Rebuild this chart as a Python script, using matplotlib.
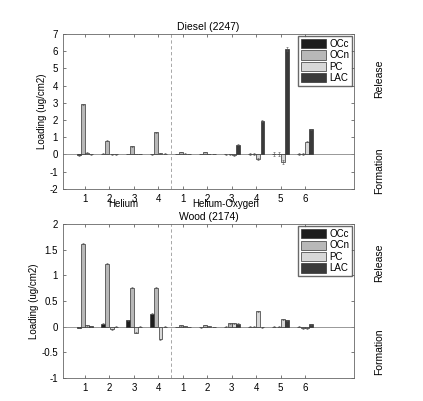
import numpy as np
import matplotlib
matplotlib.use("Agg")
from matplotlib import pyplot as plt
from matplotlib.patches import Patch
from matplotlib.ticker import FormatStrFormatter

plt.rcParams['font.family'] = ['Liberation Sans', 'DejaVu Sans']
plt.rcParams['axes.unicode_minus'] = False

tick_labels = ["1", "2", "3", "4", "1", "2", "3", "4", "5", "6"]
series = ["OCc", "OCn", "PC", "LAC"]
colors = ["#1e1e1e", "#b8b8b8", "#d8d8d8", "#3a3a3a"]

# Diesel (2247): Helium 1-4, Helium-Oxygen 1-6
diesel_occ = [-0.05, 0.03, 0.03, 0.0, 0.02, 0.03, 0.02, 0.02, 0.01, 0.02]
diesel_ocn = [2.9, 0.8, 0.48, 1.28, 0.15, 0.15, 0.02, 0.02, 0.01, 0.03]
diesel_pc = [0.1, 0.02, 0.02, 0.08, 0.05, 0.03, -0.05, -0.25, -0.45, 0.75]
diesel_lac = [0.02, 0.01, 0.02, 0.03, 0.02, 0.02, 0.55, 1.95, 6.1, 1.45]
diesel_err = [0.03, 0.03, 0.02, 0.03, 0.02, 0.02, 0.03, 0.05, 0.12, 0.05]

# Wood (2174)
wood_occ = [-0.02, 0.06, 0.13, 0.25, 0.0, -0.01, 0.0, 0.0, 0.0, 0.0]
wood_ocn = [1.62, 1.23, 0.76, 0.76, 0.03, 0.04, 0.07, 0.0, 0.0, -0.03]
wood_pc = [0.03, -0.05, -0.12, -0.24, 0.01, 0.01, 0.07, 0.3, 0.15, -0.03]
wood_lac = [0.01, 0.0, 0.0, 0.0, 0.0, 0.0, 0.06, -0.01, 0.13, 0.05]
wood_err = [0.01, 0.01, 0.01, 0.01, 0.005, 0.005, 0.01, 0.01, 0.01, 0.01]

x = np.arange(1, 11)
offsets = [-0.255, -0.085, 0.085, 0.255]
width = 0.16


def draw(ax, data, err, title, ylim, yticks):
    for k in range(4):
        ax.bar(x + offsets[k], data[k], width, color=colors[k],
               edgecolor="#333333", linewidth=0.5, zorder=3)
        ax.errorbar(x + offsets[k], data[k], yerr=err, fmt="none",
                    ecolor="#555555", elinewidth=0.4, capsize=1.0,
                    capthick=0.4, zorder=4)
    ax.axhline(0, color="#888888", linewidth=0.6, zorder=2)
    ax.axvline(4.5, color="#999999", linewidth=0.6, linestyle=(0, (4, 3)))
    ax.set_xlim(0.1, 12)
    ax.set_ylim(*ylim)
    ax.set_yticks(yticks)
    ax.yaxis.set_major_formatter(FormatStrFormatter('%g'))
    ax.set_xticks(x)
    ax.set_xticklabels(tick_labels)
    ax.tick_params(direction="in", length=2.5, width=0.5, labelsize=7,
                   top=True, right=True, colors="#444444", labelcolor="black")
    for s in ax.spines.values():
        s.set_linewidth(0.6)
        s.set_color("#666666")
    ax.set_title(title, fontsize=7.5, pad=3)
    ax.set_ylabel("Loading (ug/cm2)", fontsize=7, labelpad=2)
    handles = [Patch(facecolor=c, edgecolor="#333333", linewidth=0.5) for c in colors]
    ax.legend(handles, series, loc="upper right", fontsize=7,
              frameon=True, fancybox=False, edgecolor="#444444",
              handlelength=2.6, handleheight=1.1, handletextpad=0.3,
              borderpad=0.3, labelspacing=0.15, borderaxespad=0.2)


fig = plt.figure(figsize=(4.23, 4.01), dpi=100)
ax1 = fig.add_axes([0.149, 0.529, 0.688, 0.3865])
ax2 = fig.add_axes([0.149, 0.057, 0.688, 0.384])

draw(ax1, [diesel_occ, diesel_ocn, diesel_pc, diesel_lac], diesel_err,
     "Diesel (2247)", (-2, 7), range(-2, 8))
draw(ax2, [wood_occ, wood_ocn, wood_pc, wood_lac], wood_err,
     "Wood (2174)", (-1, 2), [-1, -0.5, 0, 0.5, 1, 1.5, 2])

for ax, (yr, yf) in ((ax1, (0.71, 0.12)), (ax2, (0.75, 0.17))):
    ax.text(1.085, yr, "Release", transform=ax.transAxes, rotation=90,
            ha="center", va="center", fontsize=7.5)
    ax.text(1.085, yf, "Formation", transform=ax.transAxes, rotation=90,
            ha="center", va="center", fontsize=7.5)

ax1.text(2.55, -2.6, "Helium", ha="center", va="top", fontsize=7, clip_on=False)
ax1.text(6.75, -2.6, "Helium-Oxygen", ha="center", va="top", fontsize=7, clip_on=False)

fig.savefig("out.png", dpi=100)
